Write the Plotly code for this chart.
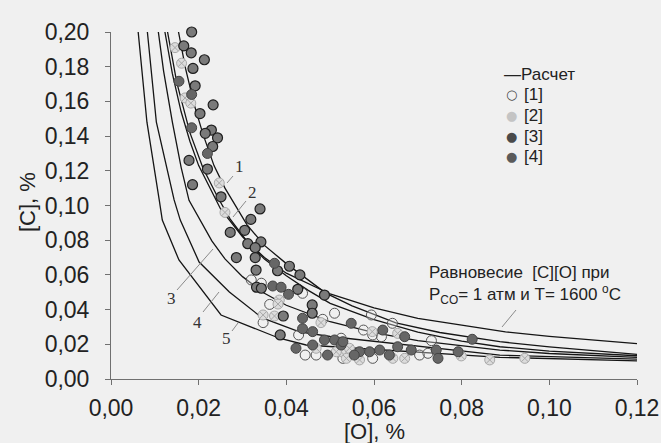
import plotly.graph_objects as go

# ---------------- calculated curves ----------------
EQ_O = [0.0123, 0.014, 0.016, 0.018, 0.020, 0.025, 0.030, 0.035, 0.040, 0.050, 0.060, 0.070, 0.080, 0.090, 0.100, 0.110, 0.120]
EQ_C = [0.200, 0.176, 0.154, 0.137, 0.123, 0.098, 0.082, 0.070, 0.061, 0.049, 0.041, 0.035, 0.031, 0.0272, 0.0246, 0.0223, 0.0204]

C1_O = [0.0154, 0.017, 0.019, 0.021, 0.0235, 0.026, 0.031, 0.035, 0.040, 0.045, 0.049, 0.055, 0.065, 0.075, 0.0887, 0.100, 0.120]
C1_C = [0.200, 0.179, 0.158, 0.141, 0.123, 0.110, 0.089, 0.077, 0.0665, 0.0573, 0.0495, 0.0422, 0.0323, 0.0268, 0.0215, 0.0185, 0.0142]

C2_O = [0.0129, 0.015, 0.018, 0.021, 0.0245, 0.0272, 0.031, 0.035, 0.040, 0.045, 0.050, 0.060, 0.070, 0.080, 0.0887, 0.100, 0.120]
C2_C = [0.200, 0.171, 0.142, 0.1215, 0.104, 0.0922, 0.0794, 0.0691, 0.0595, 0.0511, 0.0436, 0.0342, 0.0270, 0.0218, 0.0186, 0.0161, 0.0134]

C3_O = [0.0108, 0.012, 0.014, 0.016, 0.0178, 0.0203, 0.023, 0.026, 0.030, 0.035, 0.040, 0.050, 0.060, 0.070, 0.0887, 0.100, 0.120]
C3_C = [0.200, 0.1775, 0.148, 0.122, 0.103, 0.0916, 0.0796, 0.0692, 0.059, 0.0494, 0.0425, 0.033, 0.0267, 0.0221, 0.0167, 0.0147, 0.0125]

C4_O = [0.0083, 0.01035, 0.0144, 0.0158, 0.0201, 0.027, 0.0345, 0.043, 0.050, 0.0887, 0.120]
C4_C = [0.200, 0.148, 0.1032, 0.0916, 0.0674, 0.0501, 0.0352, 0.0271, 0.0245, 0.0138, 0.0114]

C5_O = [0.0062, 0.0082, 0.0110, 0.0117, 0.0155, 0.0251, 0.0384, 0.0445, 0.0887, 0.120]
C5_C = [0.200, 0.148, 0.1032, 0.0916, 0.0686, 0.0369, 0.0235, 0.0196, 0.0125, 0.0105]

# ---------------- experimental points ----------------
S1_O = [0.0320, 0.0343, 0.0437, 0.0362, 0.0510, 0.0483, 0.0347, 0.0594, 0.0642, 0.0576, 0.0428,
        0.0525, 0.0597, 0.0617, 0.0731, 0.0443, 0.0468, 0.0704, 0.0723, 0.0529, 0.0597]
S1_C = [0.0571, 0.0552, 0.0494, 0.0430, 0.0379, 0.0344, 0.0325, 0.0369, 0.0321, 0.0282, 0.0254,
        0.0235, 0.0254, 0.0244, 0.0221, 0.0138, 0.0138, 0.0138, 0.0148, 0.0119, 0.0119]

S2_O = [0.0146, 0.0161, 0.0169, 0.0182, 0.0247, 0.0260, 0.0384, 0.0381, 0.0347, 0.0373, 0.0479,
        0.0525, 0.0567, 0.0596, 0.0654, 0.0799, 0.0864, 0.0944, 0.0643, 0.0670, 0.0544, 0.0514,
        0.0537, 0.0468]
S2_C = [0.191, 0.182, 0.162, 0.159, 0.113, 0.096, 0.0455, 0.0432, 0.0369, 0.0363, 0.0325,
        0.0157, 0.0110, 0.0273, 0.0263, 0.0133, 0.0110, 0.0119, 0.0119, 0.0119, 0.0177, 0.0157,
        0.0119, 0.0177]

S3_O = [0.0184, 0.0166, 0.0183, 0.0213, 0.0187, 0.0192, 0.0233, 0.0203, 0.0229, 0.0215, 0.0243,
        0.0232, 0.0178, 0.0220, 0.0186, 0.0251, 0.0340, 0.0319, 0.0272, 0.0305, 0.0312, 0.0342,
        0.0329, 0.0286, 0.0329, 0.0407, 0.0431, 0.0331, 0.0380, 0.0332, 0.0343, 0.0426, 0.0487,
        0.0459, 0.0459, 0.0393, 0.0386]
S3_C = [0.200, 0.192, 0.188, 0.184, 0.179, 0.169, 0.158, 0.153, 0.1435, 0.1416, 0.139,
        0.134, 0.126, 0.121, 0.112, 0.105, 0.098, 0.092, 0.0845, 0.0857, 0.078, 0.079,
        0.0757, 0.070, 0.070, 0.065, 0.060, 0.0628, 0.0624, 0.0529, 0.0523, 0.0517, 0.0484,
        0.0427, 0.0379, 0.0363, 0.0254]

S4_O = [0.0155, 0.0184, 0.0184, 0.0220, 0.0373, 0.0369, 0.0388, 0.0405, 0.0437, 0.0437, 0.0460,
        0.0548, 0.0620, 0.0670, 0.0422, 0.0460, 0.0487, 0.0510, 0.0525, 0.0494, 0.0567, 0.0590,
        0.0613, 0.0654, 0.0555, 0.0824, 0.0685, 0.0742, 0.0792, 0.0635, 0.0746, 0.0529]
S4_C = [0.1716, 0.164, 0.1448, 0.130, 0.0667, 0.0536, 0.0529, 0.0488, 0.0350, 0.0290, 0.0273,
        0.0321, 0.0282, 0.0244, 0.0177, 0.0196, 0.0225, 0.0225, 0.0196, 0.0138, 0.0157, 0.0157,
        0.0167, 0.0186, 0.0138, 0.0229, 0.0167, 0.0167, 0.0157, 0.0138, 0.0119, 0.0215]

X_TICKS = [0.00, 0.02, 0.04, 0.06, 0.08, 0.10, 0.12]
Y_TICKS = [0.00, 0.02, 0.04, 0.06, 0.08, 0.10, 0.12, 0.14, 0.16, 0.18, 0.20]

SERIES_NAMES = ['[1]', '[2]', '[3]', '[4]']
CALC_NAME = 'Расчет'

# ---------------- figure ----------------
W, H = 661, 443
ML, MR, MT, MB = 111, 24, 32, 64
PW, PH = W - ML - MR, H - MT - MB


def pxx(p):
    return (p - ML) / PW


def pxy(p):
    return (H - MB - p) / PH


fig = go.Figure()
curves = [(EQ_O, EQ_C), (C1_O, C1_C), (C2_O, C2_C), (C3_O, C3_C), (C4_O, C4_C), (C5_O, C5_C)]
for xs, ys in curves:
    fig.add_trace(go.Scatter(x=xs, y=ys, mode='lines', name=CALC_NAME, showlegend=False,
                             line=dict(color='#151515', width=1.3), hoverinfo='skip'))

styles = [
    dict(symbol='circle', size=10, color='rgba(240,240,240,0.35)', line=dict(color='#555555', width=1)),
    dict(symbol='circle-x', size=10, color='#dcdcdc', line=dict(color='#a8a8a8', width=1)),
    dict(symbol='circle', size=10, color='#7a7a7a', line=dict(color='#1e1e1e', width=1.2)),
    dict(symbol='circle', size=10, color='#666666', line=dict(color='#444444', width=1)),
]
for name, xs, ys, st in zip(SERIES_NAMES, [S1_O, S2_O, S3_O, S4_O], [S1_C, S2_C, S3_C, S4_C], styles):
    fig.add_trace(go.Scatter(x=xs, y=ys, mode='markers', name=name, cliponaxis=False,
                             showlegend=False, marker=st))

axis_common = dict(showgrid=False, zeroline=False, showline=True, linecolor='#707070',
                   linewidth=1, ticks='outside', ticklen=5, tickcolor='#707070',
                   tickformat='.2f', tickfont=dict(size=23, color='#222222'),
                   automargin=False)

fig.update_layout(
    width=W, height=H,
    margin=dict(l=ML, r=MR, t=MT, b=MB, pad=0, autoexpand=False),
    paper_bgcolor='#f0f0f0', plot_bgcolor='#f0f0f0',
    separators=',.',
    font=dict(family='Liberation Sans, Arial, sans-serif', color='#222222'),
    xaxis=dict(range=[0, 0.12], tickvals=X_TICKS, ticklabelstandoff=3, **axis_common),
    yaxis=dict(range=[0, 0.20], tickvals=Y_TICKS, ticklabelstandoff=11, **axis_common),
    showlegend=False,
)

ann = []
# axis titles
ann.append(dict(text='[O], %', x=pxx(374), y=pxy(431), xref='paper', yref='paper',
                showarrow=False, font=dict(size=22), xanchor='center', yanchor='middle'))
ann.append(dict(text='[C], %', x=pxx(27), y=pxy(202), xref='paper', yref='paper',
                showarrow=False, font=dict(size=22), textangle=-90,
                xanchor='center', yanchor='middle'))
# equilibrium note
ann.append(dict(text='Равновесие\u00a0 [C][O] при<br>P<sub>CO</sub>= 1 атм и Т= 1600 <sup>o</sup>C',
                x=pxx(427), y=pxy(261), xref='paper', yref='paper', showarrow=False,
                align='left', xanchor='left', yanchor='top', font=dict(size=17)))
# curve numbers
labels = [('1', 239, 166), ('2', 252, 192), ('3', 171, 298), ('4', 197, 322), ('5', 226, 338)]
for t, lx, ly in labels:
    ann.append(dict(text=t, x=pxx(lx), y=pxy(ly), xref='paper', yref='paper', showarrow=False,
                    xanchor='center', yanchor='middle',
                    font=dict(size=17, family='Liberation Serif, Times New Roman, serif',
                              color='#333333')))

# hand-built legend (matches the compact original)
ann.append(dict(text='\u2014' + CALC_NAME, x=pxx(502), y=pxy(75), xref='paper', yref='paper',
                showarrow=False, xanchor='left', yanchor='middle', font=dict(size=17)))
leg_glyphs = [('\u25cb', '#444444'), ('\u25cf', '#c4c4c4'), ('\u25cf', '#4a4a4a'), ('\u25cf', '#5a5a5a')]
leg_rows = [95, 115.5, 136, 156.5]
for name, (g, col), ry in zip(SERIES_NAMES, leg_glyphs, leg_rows):
    ann.append(dict(text=g, x=pxx(511), y=pxy(ry), xref='paper', yref='paper', showarrow=False,
                    xanchor='center', yanchor='middle',
                    font=dict(size=13, color=col, family='DejaVu Sans, sans-serif')))
    ann.append(dict(text=name, x=pxx(522), y=pxy(ry), xref='paper', yref='paper', showarrow=False,
                    xanchor='left', yanchor='middle', font=dict(size=17)))
fig.update_layout(annotations=ann)

pointers = [(233, 176, 227, 183), (246, 201, 233, 217), (177, 290, 213, 249),
            (203, 312, 219, 292), (232, 331, 238, 323), (516, 310, 502, 327)]
for x0, y0, x1, y1 in pointers:
    fig.add_shape(type='line', xref='paper', yref='paper', x0=pxx(x0), y0=pxy(y0),
                  x1=pxx(x1), y1=pxy(y1), line=dict(color='#8a8a8a', width=1))

fig.write_html('out.html', config={'displayModeBar': False},
               post_script="document.body.style.margin='0';")
